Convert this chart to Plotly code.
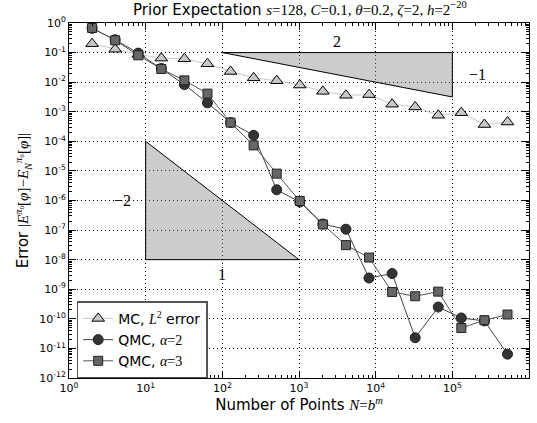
import math
import plotly.graph_objects as go

# ---- data ----
N = [2, 4, 8, 16, 32, 64, 128, 256, 512, 1024, 2048, 4096, 8192, 16384,
     32768, 65536, 131072, 262144, 524288]
mc_err = [0.20, 0.13, 0.087, 0.065, 0.062, 0.042, 0.023, 0.014, 0.0112, 0.0080,
          0.0049, 0.0036, 0.0038, 0.0018, 0.00145, 0.00076, 0.00093, 0.00037, 0.00045]
qmc2_err = [0.66, 0.27, 0.096, 0.029, 0.0083, 0.0020, 0.00043, 0.00016, 2.3e-6, 8.9e-7,
            1.6e-7, 1.07e-7, 2.4e-9, 3.4e-9, 2.3e-11, 2.5e-10, 1.07e-10, 8.5e-11, 6.4e-12]
qmc3_err = [0.68, 0.26, 0.081, 0.028, 0.0115, 0.0041, 0.00043, 7.3e-5, 8.1e-6, 9.6e-7,
            1.55e-7, 3.1e-8, 1.18e-8, 8.1e-10, 5.8e-10, 8.3e-10, 4.9e-11, 9.0e-11, 1.4e-10]

# slope guide triangles
tri1_x = [1e2, 1e5, 1e5, 1e2]
tri1_y = [1e-1, 1e-1, 10 ** -2.5, 1e-1]
tri2_x = [1e1, 1e1, 1e3, 1e1]
tri2_y = [1e-4, 1e-8, 1e-8, 1e-4]

x_exp = [0, 1, 2, 3, 4, 5, 6]
y_exp = [0, -1, -2, -3, -4, -5, -6, -7, -8, -9, -10, -11, -12]

SANS = "DejaVu Sans"
SERIF = "Liberation Serif"

def m(s):
    return f'<span style="font-family:{SERIF}">{s}</span>'

fig = go.Figure()

for tx, ty in [(tri1_x, tri1_y), (tri2_x, tri2_y)]:
    fig.add_trace(go.Scatter(x=tx, y=ty, mode="lines", fill="toself",
                             fillcolor="rgba(128,128,128,0.4)",
                             line=dict(color="black", width=1),
                             showlegend=False, hoverinfo="skip"))

fig.add_trace(go.Scatter(
    x=N, y=mc_err, mode="lines+markers",
    name="MC, " + m("<i>L</i><sup>2</sup>") + " error",
    line=dict(color="#c8c8c8", width=1),
    marker=dict(symbol="triangle-up", size=11, color="#c8c8c8",
                line=dict(color="black", width=1))))
fig.add_trace(go.Scatter(
    x=N, y=qmc2_err, mode="lines+markers",
    name="QMC, " + m("<i>α</i>=2"),
    line=dict(color="#444444", width=1),
    marker=dict(symbol="circle", size=10, color="#333333",
                line=dict(color="#222222", width=1))))
fig.add_trace(go.Scatter(
    x=N, y=qmc3_err, mode="lines+markers",
    name="QMC, " + m("<i>α</i>=3"),
    line=dict(color="#555555", width=1),
    marker=dict(symbol="square", size=9, color="#666666",
                line=dict(color="#222222", width=1))))

def minor_vals(lo, hi):
    out = []
    for d in range(lo, hi):
        for k in range(2, 10):
            out.append(k * 10 ** d)
    return out

axis_common = dict(
    type="log", showline=True, linecolor="black", linewidth=1, mirror="allticks",
    ticks="inside", ticklen=7, tickcolor="black", tickwidth=1,
    showgrid=True, gridcolor="black", griddash="1px,3px", gridwidth=1,
    zeroline=False, automargin=False,
    tickfont=dict(family=SANS, size=11, color="black"),
)

fig.update_xaxes(
    **axis_common,
    range=[0, 6],
    tickmode="array", tickvals=[10 ** e for e in x_exp],
    ticktext=[f"10<sup>{e}</sup>" for e in x_exp],
    minor=dict(tickmode="array", tickvals=minor_vals(0, 6), ticks="inside",
               ticklen=3, tickcolor="black", showgrid=False),
    title=dict(text="Number of Points " + m("<i>N</i>=<i>b<sup>m</sup></i>"),
               font=dict(family=SANS, size=15, color="black"), standoff=4),
)
fig.update_yaxes(
    **axis_common,
    range=[-12, 0],
    tickmode="array", tickvals=[10.0 ** e for e in y_exp],
    ticktext=[f"10<sup>{e}</sup>" for e in y_exp],
    minor=dict(tickmode="array", tickvals=minor_vals(-12, 0), ticks="inside",
               ticklen=3, tickcolor="black", showgrid=False),
    title=dict(text="Error " + m("|<i>E</i><sup><i>π</i>₀</sup>[<i>φ</i>]−<i>E</i><sub><i>N</i></sub><sup><i>π</i>₀</sup>[<i>φ</i>]|"),
               font=dict(family=SANS, size=15, color="black"), standoff=6),
)

ann = [
    (math.log10(3.1e3), math.log10(0.23), "2"),
    (math.log10(2.1e5), math.log10(0.018), "−1"),
    (math.log10(5.0), math.log10(1.0e-6), "−2"),
    (math.log10(100), math.log10(3.2e-9), "1"),
]
for ax_, ay_, t in ann:
    fig.add_annotation(x=ax_, y=ay_, text=t, showarrow=False,
                       font=dict(family=SERIF, size=16, color="black"))

fig.update_layout(
    width=537, height=423,
    margin=dict(l=69, r=8, t=23, b=45),
    plot_bgcolor="white", paper_bgcolor="white",
    title=dict(text="Prior Expectation " + m("<i>s</i>=128, <i>C</i>=0.1, <i>θ</i>=0.2, <i>ζ</i>=2, <i>h</i>=2<sup>−20</sup>"),
               x=0.5585, xanchor="center", y=0.99, yanchor="top",
               font=dict(family=SANS, size=15, color="black")),
    legend=dict(x=0.0167, y=0.216, xanchor="left", yanchor="top",
                bgcolor="white", bordercolor="#555555", borderwidth=1.5,
                font=dict(family=SANS, size=14, color="black"),
                tracegroupgap=0, itemwidth=30),
    showlegend=True,
)

fig.write_html("out.html", config={"displayModeBar": False, "staticPlot": True},
               post_script="document.body.style.margin='0px';")
